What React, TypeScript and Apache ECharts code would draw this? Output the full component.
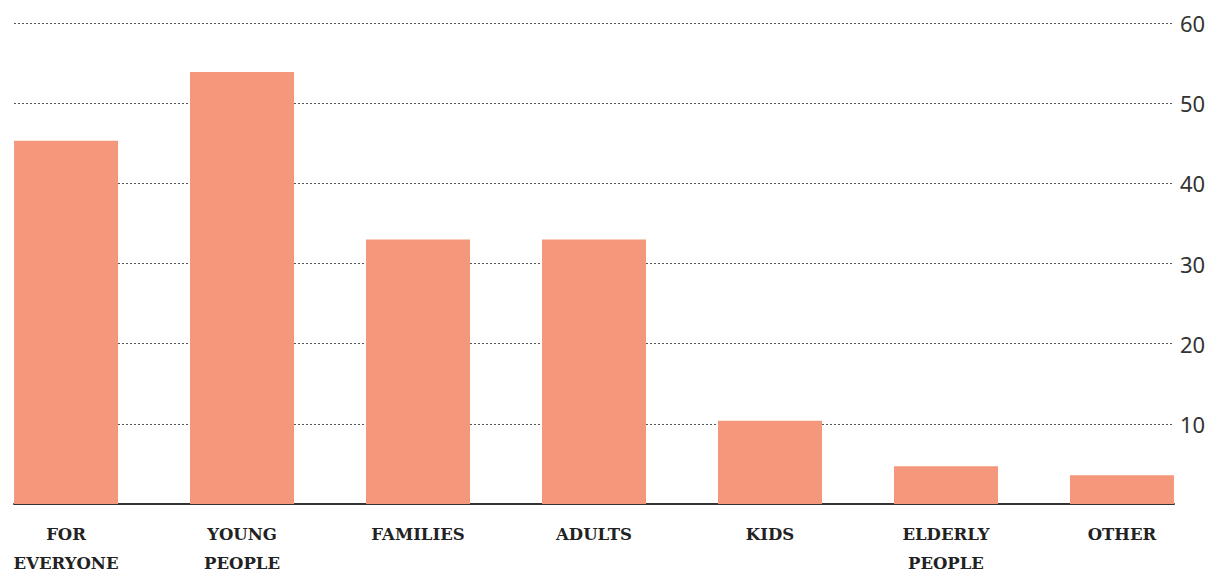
import React, { useEffect, useRef } from "react";
import * as echarts from "echarts";

const categories = ["FOR\nEVERYONE", "YOUNG\nPEOPLE", "FAMILIES", "ADULTS", "KIDS", "ELDERLY\nPEOPLE", "OTHER"];
const values = [45.3, 53.9, 33.0, 33.0, 10.4, 4.7, 3.6];
const yTicks = [0, 10, 20, 30, 40, 50, 60];

export default function App() {
  const ref = useRef<HTMLDivElement>(null);
  useEffect(() => {
    const chart = echarts.init(ref.current!, null, { renderer: "svg" });
    const half = 0.2957;
    chart.setOption({
      animation: false,
      backgroundColor: "#ffffff",
      grid: { left: 14, right: 52, top: 23, bottom: 72, containLabel: false },
      xAxis: {
        type: "value",
        min: -half,
        max: categories.length - 1 + half,
        splitLine: { show: false },
        axisTick: { show: false },
        axisLine: { show: true, onZero: false, lineStyle: { color: "#333", width: 2 } },
        axisLabel: {
          show: true,
          customValues: categories.map((_, i) => i),
          formatter: (v: number) => categories[Math.round(v)] ?? "",
          color: "#222",
          fontFamily: "DejaVu Serif",
          fontWeight: "bold",
          fontSize: 16.5,
          lineHeight: 29,
          margin: 16,
          verticalAlign: "top",
        },
      },
      yAxis: {
        type: "value",
        position: "right",
        min: yTicks[0],
        max: yTicks[yTicks.length - 1],
        interval: 10,
        axisLine: { show: false },
        axisTick: { show: false },
        splitLine: { show: true, lineStyle: { color: "#555", width: 1, type: [2, 2] } },
        axisLabel: {
          color: "#333",
          fontFamily: "Noto Sans",
          fontSize: 22,
          margin: 6,
          formatter: (v: number) => (v === 0 ? "" : String(v)),
        },
      },
      series: [
        {
          type: "bar",
          barWidth: 104,
          itemStyle: { color: "#F5977A" },
          data: values.map((v, i) => [i, v]),
        },
      ],
    });
    return () => chart.dispose();
  }, []);
  return (
    <div
      ref={ref}
      style={{ position: "absolute", left: 0, top: 0, width: 1226, height: 578 }}
    />
  );
}
